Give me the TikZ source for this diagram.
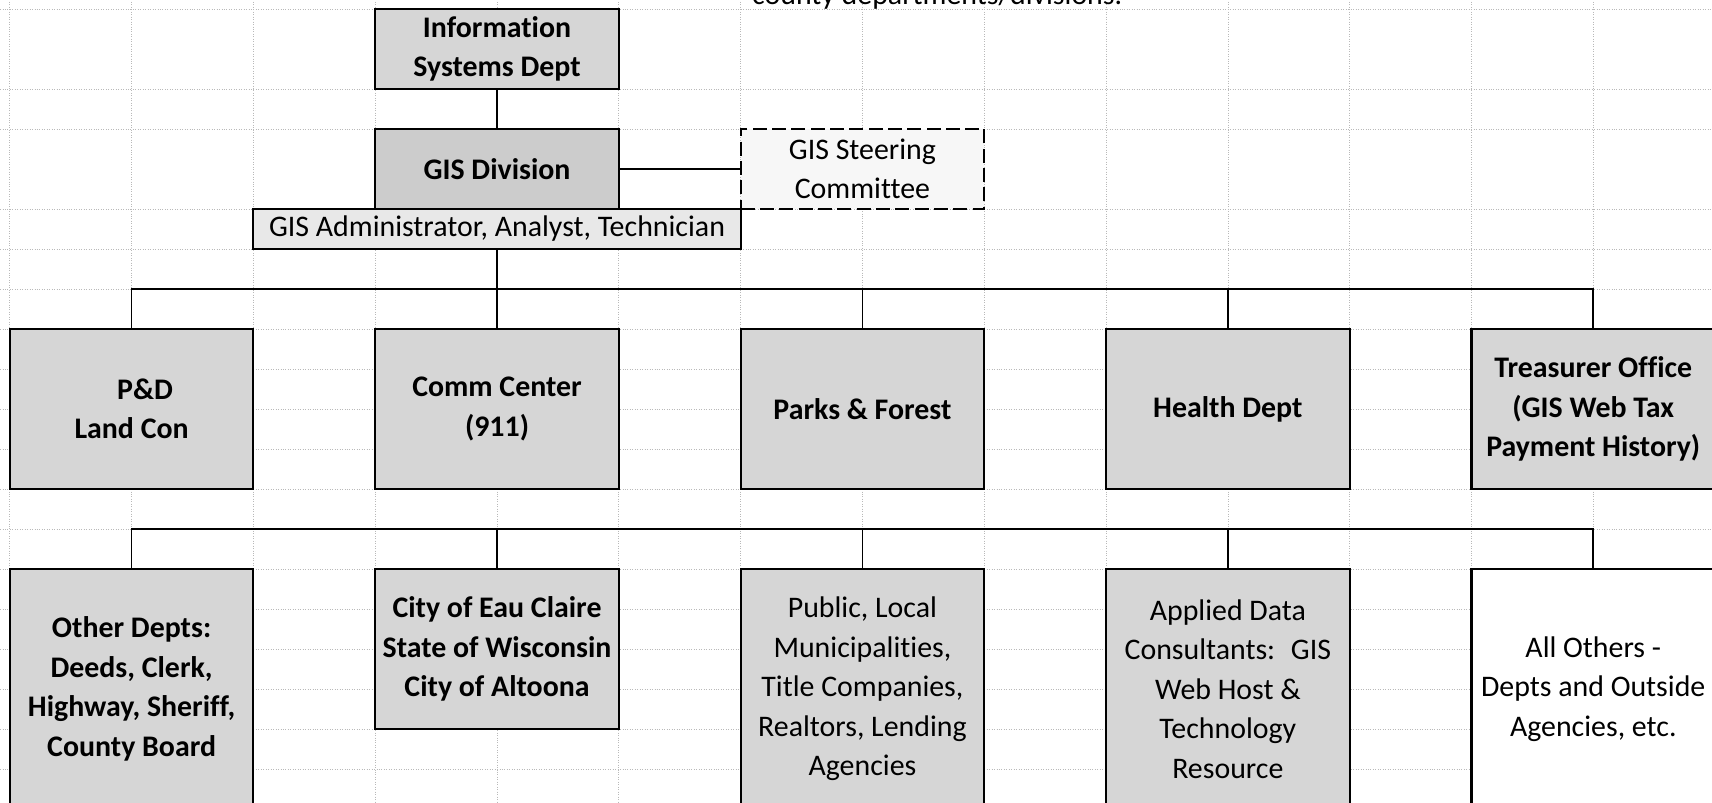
\documentclass[tikz,border=0pt]{standalone}
\usepackage{fontspec}
\setmainfont{Carlito}[Ligatures={NoCommon,NoContextual}]
\usepackage{tikz}

\newcommand{\cellfont}{\fontsize{17}{22.5}\selectfont}
\definecolor{deptgray}{gray}{0.84}
\definecolor{divgray}{gray}{0.80}
\definecolor{staffgray}{gray}{0.91}
\definecolor{cmtgray}{gray}{0.97}

\begin{document}
\begin{tikzpicture}[x=2.436cm,y=-0.8cm,
    gridline/.style={gray!55,densely dotted,line width=0.4pt},
    cell/.style={rectangle,draw=black,line width=1.2pt,inner sep=2pt,
      align=center,font=\cellfont,minimum width=4.872cm},
    unit/.style={cell,fill=deptgray,font=\cellfont\bfseries},
    partner/.style={cell,fill=deptgray},
    link/.style={draw=black,line width=0.9pt}]

  % sheet area and its cell grid
  \useasboundingbox (-0.0805,-0.225) rectangle (13.975,19.825);
  \clip (-0.0805,-0.225) rectangle (13.975,19.825);
  \fill[white] (-0.0805,-0.225) rectangle (13.975,19.825);
  \foreach \c in {0,...,13}
    \draw[gridline] (\c,-0.3) -- (\c,20);
  \foreach \r in {0,2,3,5,6,7,8,9,10,11,12,13,14,15,16,17,18,19}
    \draw[gridline] (-0.1,\r) -- (14,\r);

  \node[anchor=base west,font=\cellfont] (note) at (6.044,-0.12)
    {county departments/divisions.};

  % top of the chart
  \node[unit,minimum height=1.6cm] (isd) at (4,1) {Information\\Systems Dept};
  \node[unit,fill=divgray,minimum height=1.6cm] (gis) at (4,4) {GIS Division};
  \node[cell,fill=staffgray,minimum width=9.744cm,minimum height=0.8cm] (staff)
    at (4,5.5) {GIS Administrator, Analyst, Technician};
  \node[cell,fill=cmtgray,dash pattern=on 8pt off 3pt,minimum height=1.6cm] (cmt)
    at (7,4) {GIS Steering\\Committee};

  % county departments
  \begin{scope}[every node/.append style={minimum height=3.2cm}]
    \node[unit] (pd) at (1,10) {\hspace*{0.9em}P\&D\\Land Con};
    \node[unit] (comm) at (4,10) {Comm Center\\(911)};
    \node[unit] (parks) at (7,10) {Parks \& Forest};
    \node[unit] (health) at (10,10) {Health Dept};
    \node[unit] (treas) at (13,10) {Treasurer Office\\(GIS Web Tax\\Payment History)};
  \end{scope}

  % users of the data
  \begin{scope}[every node/.append style={minimum height=4.8cm}]
    \node[unit] (other) at (1,17) {Other Depts:\\Deeds, Clerk,\\Highway, Sheriff,\\County Board};
    \node[unit,minimum height=3.2cm] (city) at (4,16) {City of Eau Claire\\State of Wisconsin\\City of Altoona};
    \node[partner] (public) at (7,17) {Public, Local\\Municipalities,\\Title Companies,\\Realtors, Lending\\Agencies};
    \node[partner] (adc) at (10,17) {Applied Data\\Consultants:~ GIS\\Web Host \&\\Technology\\Resource};
    \node[cell,fill=white] (others) at (13,17) {All Others -\\Depts and Outside\\Agencies, etc.};
  \end{scope}

  \coordinate (bus1) at (4,7);
  \coordinate (bus2) at (4,13);

  \draw[link] (isd) -- (gis);
  \draw[link] (gis) -- (cmt);
  \draw[link] (staff) -- (bus1);
  \draw[link] (pd) |- (bus1) -| (treas);
  \draw[link] (comm) -- (bus1);
  \draw[link] (parks) -- (parks |- bus1);
  \draw[link] (health) -- (health |- bus1);

  \draw[link] (other) |- (bus2) -| (others);
  \draw[link] (city) -- (bus2);
  \draw[link] (public) -- (public |- bus2);
  \draw[link] (adc) -- (adc |- bus2);
\end{tikzpicture}
\end{document}
